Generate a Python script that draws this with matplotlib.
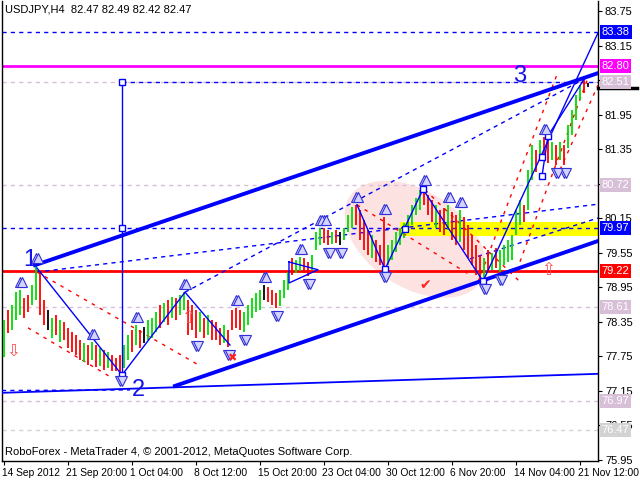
import numpy as np
import matplotlib.pyplot as plt
from matplotlib.transforms import blended_transform_factory, offset_copy

plt.rcParams['font.family'] = ['Liberation Sans', 'DejaVu Sans']

# USDJPY H4 bars (one entry per drawn bar)
highs = [78.38, 78.55, 78.64, 78.86, 78.90, 78.76, 78.81, 78.99, 79.32, 79.21,
         78.72, 78.55, 78.41, 78.46, 78.38, 78.34, 78.24, 78.17, 78.11, 78.03,
         77.98, 77.94, 78.00, 77.94, 77.89, 77.85, 77.82, 77.77, 77.72, 77.77,
         77.94, 78.11, 78.20, 78.29, 78.20, 78.25, 78.38, 78.41, 78.51, 78.64,
         78.67, 78.72, 78.77, 78.76, 78.81, 78.86, 78.72, 78.64, 78.55, 78.51,
         78.41, 78.46, 78.38, 78.34, 78.24, 78.29, 78.20, 78.55, 78.58, 78.55,
         78.51, 78.64, 78.76, 78.85, 78.90, 78.99, 78.95, 78.90, 78.85, 78.90,
         79.07, 79.21, 79.46, 79.42, 79.47, 79.46, 79.38, 79.51, 79.90, 79.97,
         79.97, 79.94, 79.90, 79.94, 79.90, 79.97, 80.20, 80.34, 80.38, 80.29,
         80.12, 79.94, 79.85, 79.77, 79.68, 80.16, 79.68, 79.77, 79.90, 79.97,
         80.07, 80.20, 80.38, 80.50, 80.64, 80.67, 80.55, 80.46, 80.38, 80.29,
         80.32, 80.38, 80.25, 80.20, 80.29, 80.16, 80.03, 79.85, 79.68, 79.51,
         79.46, 79.59, 79.54, 79.63, 79.59, 79.68, 79.77, 79.85, 80.29, 80.46,
         80.38, 80.99, 81.42, 81.33, 81.51, 81.56, 81.51, 81.47, 81.42, 81.47,
         81.42, 81.77, 82.03, 82.29, 82.46, 82.58, 82.49]
lows = [77.73, 78.15, 78.20, 78.38, 78.46, 78.41, 78.51, 78.64, 78.72, 78.46,
        78.29, 78.20, 78.06, 78.11, 78.00, 78.03, 77.89, 77.82, 77.77, 77.68,
        77.64, 77.59, 77.68, 77.56, 77.57, 77.51, 77.54, 77.49, 77.49, 77.45,
        77.54, 77.68, 77.82, 77.94, 77.89, 77.98, 78.03, 78.06, 78.17, 78.24,
        78.34, 78.29, 78.41, 78.38, 78.46, 78.55, 78.11, 78.20, 78.06, 78.17,
        78.06, 78.11, 78.03, 78.03, 77.94, 77.98, 77.91, 78.20, 78.24, 78.20,
        78.17, 78.29, 78.41, 78.51, 78.55, 78.72, 78.69, 78.64, 78.58, 78.62,
        78.76, 78.90, 79.16, 79.20, 79.22, 79.20, 79.14, 79.25, 79.59, 79.68,
        79.72, 79.68, 79.70, 79.72, 79.68, 79.77, 79.91, 79.97, 80.03, 79.77,
        79.59, 79.51, 79.46, 79.38, 79.33, 79.27, 79.33, 79.42, 79.56, 79.68,
        79.80, 79.91, 80.03, 80.20, 80.29, 80.38, 80.20, 80.08, 79.98, 79.91,
        79.85, 79.94, 79.77, 79.68, 79.73, 79.59, 79.46, 79.33, 79.16, 79.07,
        79.05, 79.21, 79.25, 79.28, 79.21, 79.33, 79.38, 79.42, 79.85, 80.03,
        80.08, 80.29, 80.81, 80.95, 81.16, 81.20, 81.11, 81.16, 81.07, 81.16,
        81.07, 81.37, 81.59, 81.85, 82.20, 82.33, 82.42]
# g = up bar, r = down bar, k = doji
bar_dir = ("grgggrrggr" "rkgrgrrrrr" "grgrgrgrrr" "ggrgrkgggr" "grgrggrrrg"
           "rgrrrgrrrr" "gggggkrrrg" "ggrggrrggg" "rrgrkgggrr" "rrgrrrgggg"
           "gggggrrrgr" "rgrrgrrrrr" "grgrgggggg" "rggrgrrgrg" "rggggrk")

date_bars = [0, 16, 32, 48, 64, 80, 96, 112, 128, 144]
date_labels = ['14 Sep 2012', '21 Sep 20:00', '1 Oct 04:00', '8 Oct 12:00',
               '15 Oct 20:00', '23 Oct 04:00', '30 Oct 12:00', '6 Nov 20:00',
               '14 Nov 04:00', '21 Nov 12:00']
price_ticks = [83.75, 83.15, 82.55, 81.95, 81.35, 80.75, 80.15, 79.55,
               78.95, 78.35, 77.75, 77.15, 76.55, 75.95]
hidden_ticks = [82.55, 80.75]   # covered by the level boxes

# horizontal levels: (price, line colour, label box colour, line style)
levels = [(83.38, '#0000ff', '#0000ff', '--'),
          (82.80, '#ff00ff', '#ff00ff', '-'),
          (82.51, '#d8bfd8', '#d8bfd8', '--'),
          (80.72, '#d8bfd8', '#d8bfd8', '--'),
          (79.97, '#0000ff', '#0000ff', '--'),
          (79.22, '#ff0000', '#ff0000', '-'),
          (78.61, '#d8bfd8', '#d8bfd8', '--'),
          (76.97, '#d8bfd8', '#d8bfd8', '--'),
          (76.47, '#d3d3d3', '#d3d3d3', '--')]

# drawn objects (bar index, price)
channel_thick = [[(7.75, 79.33), (148.5, 82.67)], [(42.75, 77.23), (148.5, 79.75)]]
base_line = [(-0.5, 77.11), (148.5, 77.44)]
blue_dashed = [[(8.25, 79.21), (148.5, 80.39)], [(45.25, 78.86), (146.5, 82.62)],
               [(116.5, 79.44), (148.5, 80.15)], [(-0.5, 77.15), (31.5, 77.16)],
               [(29.5, 82.51), (148.5, 82.51)]]
zigzags = [[(8.25, 79.28), (29.5, 77.42), (45.25, 78.86), (56.5, 77.94)],
           [(88.25, 80.38), (95.25, 79.26), (104.75, 80.65), (119.75, 79.05), (148.5, 83.37)],
           [(134.5, 80.88), (136, 81.58), (145.25, 82.59)],
           [(71.25, 79.385), (78.5, 79.25), (71.25, 79.02), (71.25, 79.385)],
           [(29.5, 77.42), (29.5, 82.52)]]
squares = [(29.5, 82.52), (29.5, 79.97), (29.5, 77.42), (95.25, 79.26), (100.25, 79.96),
           (104.75, 80.65), (119.75, 79.05), (134.5, 81.21), (134.5, 80.88), (136, 81.58)]
red_dashed = [[(8.25, 79.21), (48.25, 77.61)], [(6, 78.24), (27, 77.37)],
              [(88.25, 80.38), (116.5, 79.16)], [(105.25, 80.64), (129, 79.04)],
              [(118.5, 79.04), (138.5, 82.69)], [(129, 79.39), (146, 82.59)],
              [(139, 80.99), (148.5, 82.46)]]
waves = [('1', 6.5, 79.42), ('2', 33.5, 77.16), ('3', 129, 82.62)]

fig = plt.figure(figsize=(6.4, 4.8), dpi=100)
ax = fig.add_axes([2/640, 19/480, 596/640, 460/480])
ax.set_xlim(-0.5, 148.5)
ax.set_ylim(75.924, 83.924)

# pink ellipse (pixel sizes: 4 px per bar, 57.5 px per yen)
t = np.linspace(0, 2*np.pi, 100)
th = np.radians(33)
ex = 78*np.cos(t)*np.cos(th) - 48*np.sin(t)*np.sin(th)
ey = 78*np.cos(t)*np.sin(th) + 48*np.sin(t)*np.cos(th)
ax.fill(102.75 + ex/4, 79.78 - ey/57.5, color='#fde2e2', lw=0, zorder=1)

ax.fill_between([99, 148.5], 79.84, 80.08, color='#ffff00', lw=0, zorder=1.5)

for p, lc, bc, ls in levels:
    if ls == '-':
        ax.axhline(p, color=lc, lw=2, zorder=2)
    else:
        ax.axhline(p, color=lc, lw=1, ls='--', dashes=(3, 3), zorder=2)

for seg in channel_thick:
    (x0, y0), (x1, y1) = seg
    ax.plot([x0, x1], [y0, y1], color='#0000ff', lw=2.8, zorder=5)
ax.plot([base_line[0][0], base_line[1][0]], [base_line[0][1], base_line[1][1]],
        color='#0000ff', lw=1.3, zorder=5)
for seg in blue_dashed:
    (x0, y0), (x1, y1) = seg
    ax.plot([x0, x1], [y0, y1], color='#0000ff', lw=1, ls='--', dashes=(3, 3), zorder=3)
for seg in red_dashed:
    (x0, y0), (x1, y1) = seg
    ax.plot([x0, x1], [y0, y1], color='#ff0000', lw=1, ls='--', dashes=(2.5, 4), zorder=3)
for zz in zigzags:
    ax.plot([p[0] for p in zz], [p[1] for p in zz], color='#0000ff', lw=1, zorder=5)
ax.plot([p[0] for p in squares], [p[1] for p in squares], ls='none', marker='s', ms=4,
        mfc='white', mec='#0000ff', mew=1, zorder=6)

# bars
cmap = {'g': '#00dd00', 'r': '#ff0000', 'k': '#000000'}
idx = np.arange(len(highs))
ax.vlines(idx, lows, highs, colors=[cmap[c] for c in bar_dir], lw=1.3, zorder=4)

# fractals
hi = np.array(highs)
lo = np.array(lows)
up = [i for i in range(2, len(hi)-2) if hi[i] == hi[i-2:i+3].max()]
dn = [i for i in range(2, len(lo)-2) if lo[i] == lo[i-2:i+3].min()]
for off in (0, 0.6):
    ax.plot(np.array(up) + off, hi[up] + 0.14, ls='none', marker='^', ms=7, mfc='#d4d4ff',
            mec='#3030d8', mew=0.8, zorder=6)
    ax.plot(np.array(dn) + off, lo[dn] - 0.14, ls='none', marker='v', ms=7, mfc='#d4d4ff',
            mec='#3030d8', mew=0.8, zorder=6)

for s, bx, py in waves:
    ax.text(bx, py, s, fontsize=17, color='#1414e6', ha='center', va='center', zorder=7)

ax.text(57, 77.71, '\u2716', fontsize=8, color='#ff2020', ha='center', va='center',
        family='DejaVu Sans', zorder=7)
ax.text(105.25, 78.99, '\u2714', fontsize=10, color='#ff2020', ha='center', va='center',
        family='DejaVu Sans', zorder=7)
for bx, py, s in [(46, 78.41, '\u21e7'), (136, 79.25, '\u21e7'), (2.25, 77.85, '\u21e9')]:
    ax.text(bx, py, s, fontsize=12, color='#ff5050', ha='center', va='center',
            family='DejaVu Sans', zorder=7)

# axes styling
ax.spines['top'].set_visible(False)
for sp in ['left', 'right', 'bottom']:
    ax.spines[sp].set_linewidth(1)
ax.yaxis.tick_right()
ax.set_yticks(price_ticks)
ax.set_yticklabels(['' if v in hidden_ticks else f'{v:.2f}' for v in price_ticks])
ax.tick_params(axis='y', length=3, pad=2, labelsize=8)
ax.set_xticks(date_bars)
ax.set_xticklabels(date_labels)
ax.tick_params(axis='x', length=3, pad=2, labelsize=7.4)
for lbl in ax.get_xticklabels():
    lbl.set_ha('left')
    lbl.set_transform(offset_copy(lbl.get_transform(), fig=fig, x=-2, units='dots'))

# price boxes on the right scale
tr = blended_transform_factory(ax.transAxes, ax.transData)
ax.plot([1.0, 1.065], [82.41, 82.41], transform=tr, color='black', lw=2.5, clip_on=False, zorder=8)
for p, lc, bc, ls in levels:
    ax.text(1.006, p, f'{p:.2f}', transform=tr, fontsize=8, color='white', ha='left', va='center',
            bbox=dict(boxstyle='square,pad=0.18', fc=bc, ec='none'), zorder=9, clip_on=False)

fig.text(5/640, 1 - 10/480, 'USDJPY,H4  82.47 82.49 82.42 82.47', fontsize=8, va='center')
fig.text(5/640, 1 - 452/480, 'RoboForex - MetaTrader 4, \u00a9 2001-2012, MetaQuotes Software Corp.',
         fontsize=8, va='center')

fig.savefig('out.png', dpi=100)
